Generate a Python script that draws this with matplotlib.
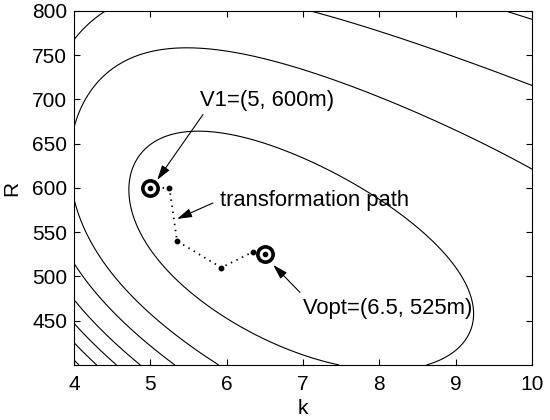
import numpy as np
import matplotlib
matplotlib.use("Agg")
import matplotlib.pyplot as plt

plt.rcParams['font.family'] = ['Liberation Sans', 'DejaVu Sans']

# points (k, R), one pair of lists per contour
l1_k = [4.76, 4.73, 4.86, 5.56, 6.96, 7.35, 8.23, 8.80, 9.19, 9.23, 9.02, 8.66, 7.62, 7.09, 6.53, 5.95, 5.65, 5.26, 5.0]
l1_R = [585, 598, 632, 664, 637, 620, 579, 526, 473, 443, 414, 401, 400, 413, 428, 451, 470, 499, 530]
l2_k = [4.0, 4.25, 4.69, 5.65, 6.96, 7.84, 8.70, 9.23, 10.0, 4.08, 4.21, 4.47, 4.83, 5.26, 5.65, 5.98]
l2_R = [640, 719, 747, 756, 735, 713, 679, 654, 615, 575, 533, 504, 470, 440, 417, 400]
l3_k = [4.0, 4.45, 7.16, 7.84, 8.70, 10.0, 4.0, 4.60, 5.30]
l3_R = [769, 800, 800, 776, 756, 719, 507, 451, 400]
l4_k = [9.67, 10.0, 4.0, 4.91]
l4_R = [800, 790, 470, 400]
l5_k = [4.0, 4.58]
l5_R = [445, 400]
l6_k = [4.0, 4.30]
l6_R = [425, 400]
l7_k = [4.0, 4.05]
l7_R = [407, 400]

# transformation path
path_k = [5.0, 5.25, 5.35, 5.93, 6.35, 6.5]
path_R = [600, 600, 540, 510, 528, 525]

lines = [(l1_k, l1_R), (l2_k, l2_R), (l3_k, l3_R), (l4_k, l4_R),
         (l5_k, l5_R), (l6_k, l6_R), (l7_k, l7_R)]
pk_all = np.concatenate([np.array(ks, float) for ks, Rs in lines])
pR_all = np.concatenate([np.array(Rs, float) for ks, Rs in lines])
idx_all = np.concatenate([[i] * len(ks) for i, (ks, Rs) in enumerate(lines)])
NB = 8


def bc(x, p):
    return np.log(x) if p == 0 else (x ** p - 1) / p


def basis(k, R, pk, pr, s1, t1):
    u = (bc(k, pk) - bc(7.0, pk)) / (bc(10.0, pk) - bc(4.0, pk))
    v = (bc(R, pr) - bc(600.0, pr)) / (bc(800.0, pr) - bc(400.0, pr))
    bar = np.exp(-(k - 4) / s1 - (R - 400) / (80 * s1))
    bar2 = np.exp((k - 10) / t1 + (R - 800) / (29 * t1))
    return np.array([np.ones_like(u), u, v, u * u, u * v, v * v, bar, bar2])


def design():
    E = np.zeros((len(idx_all), len(lines) - 2))
    y = np.zeros(len(idx_all))
    for j, i in enumerate(idx_all):
        if i >= 2:
            E[j, i - 2] = -1.0
        else:
            y[j] = i + 1.0
    return E, y


E, yv = design()


def fit(*par):
    A = np.hstack([basis(pk_all, pR_all, *par).T, E])
    w = np.ones(len(yv))
    for it in range(5):
        sol = np.linalg.lstsq(A * w[:, None], yv * w, rcond=None)[0]
        c = sol[:NB]
        h = 1e-3
        fx = (c @ basis(pk_all + 6 * h, pR_all, *par)
              - c @ basis(pk_all - 6 * h, pR_all, *par)) / (2 * h)
        fy = (c @ basis(pk_all, pR_all + 400 * h, *par)
              - c @ basis(pk_all, pR_all - 400 * h, *par)) / (2 * h)
        w = 1.0 / np.maximum(np.hypot(fx, fy), 1e-6)
    err = float(np.sum(((A @ sol - yv) * w) ** 2))
    return sol, err


best = None
for pk in [-2.0, -1.5, -1.0, -0.5, 0.0, 0.5, 1.0]:
    for pr in [-2.0, -1.0, -0.5, 0.0, 0.5, 1.0, 1.5]:
        for s1 in [0.3, 0.45, 0.6, 0.8, 1.0, 1.3, 1.6, 2.0]:
            for t1 in [0.4, 0.55, 0.7, 1.2, 2.0]:
                sol, err = fit(pk, pr, s1, t1)
                a, b, c = sol[3], sol[4], sol[5]
                ok = a > 0 and c > 0 and 4 * a * c > b * b
                ok = ok and sol[6] > 0 and sol[7] >= 0
                ok = ok and np.all(np.diff(np.r_[1.0, 2.0, sol[NB:]]) > 0)
                if ok and np.isfinite(err) and (best is None or err < best[0]):
                    best = (err, (pk, pr, s1, t1), sol)

err, par, sol = best
coef = sol[:NB]
levels = [1.0, 2.0] + list(sol[NB:])

kg = np.linspace(4, 10, 400)
Rg = np.linspace(400, 800, 400)
K, RR = np.meshgrid(kg, Rg)
Z = np.tensordot(coef, basis(K, RR, *par), axes=1)

fig = plt.figure(figsize=(5.5, 4.2), dpi=100)
ax = fig.add_axes([0.1345, 0.131, 0.833, 0.843])
ax.contour(K, RR, Z, levels=levels, colors='k', linewidths=0.8)

ax.plot(path_k, path_R, color='k', lw=1.3, linestyle=(0, (0.8, 2.6)))
ax.plot(path_k[1:-1], path_R[1:-1], 'o', color='k', ms=3.2)
for i in (0, -1):
    ax.plot(path_k[i], path_R[i], 'o', mfc='white', mec='k', ms=11, mew=2.6)
    ax.plot(path_k[i], path_R[i], 'o', color='k', ms=3)

arrow = dict(arrowstyle='-|>,head_length=0.6,head_width=0.18', color='k',
             lw=0.8, mutation_scale=15, shrinkA=0, shrinkB=0)
ax.annotate('', xy=(5.09, 609), xytext=(5.69, 683), arrowprops=arrow)
ax.annotate('', xy=(5.35, 565), xytext=(5.82, 583), arrowprops=arrow)
ax.annotate('', xy=(6.61, 513), xytext=(6.96, 482), arrowprops=arrow)
ax.text(5.65, 699, 'V1=(5, 600m)', fontsize=15.8, va='center', ha='left')
ax.text(5.91, 586, 'transformation path', fontsize=15.8, va='center', ha='left')
ax.text(7.0, 464, 'Vopt=(6.5, 525m)', fontsize=15.8, va='center', ha='left')

ax.set_xlim(4, 10)
ax.set_ylim(400, 800)
ax.set_xticks(range(4, 11))
ax.set_yticks(range(450, 801, 50))
ax.tick_params(direction='in', top=True, right=True, length=4, width=0.8,
               labelsize=15, pad=5)
ax.tick_params(axis='x', pad=7)
for s in ax.spines.values():
    s.set_linewidth(0.8)
ax.set_xlabel('k', fontsize=15, labelpad=4)
ax.set_ylabel('R', fontsize=15)
ax.yaxis.set_label_coords(-0.115, 0.5)

fig.savefig('out.png', dpi=100)
